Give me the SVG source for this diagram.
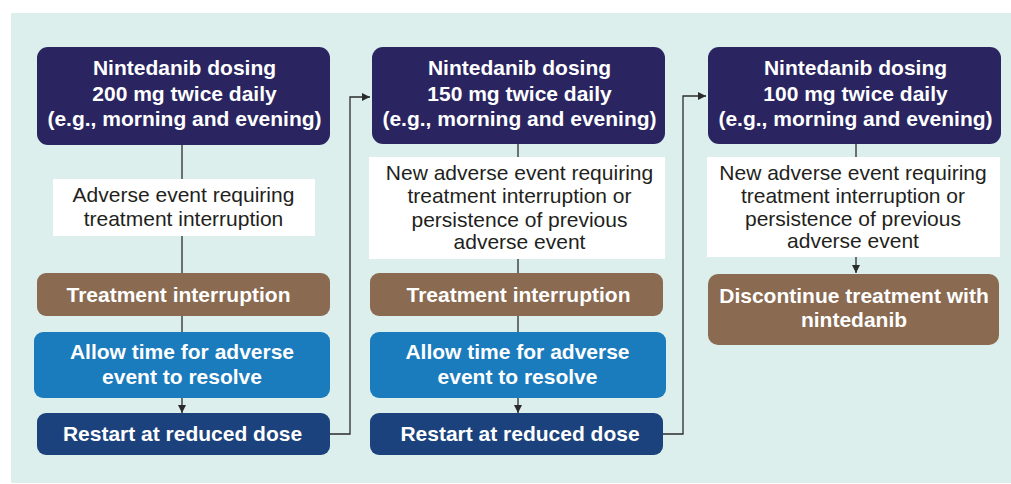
<svg xmlns="http://www.w3.org/2000/svg" width="1011" height="484" viewBox="0 0 1011 484">
  <defs>
    <marker id="arrow" viewBox="0 0 10 10" refX="10" refY="5" markerWidth="8" markerHeight="8" markerUnits="userSpaceOnUse" orient="auto">
      <path d="M0,0 L10,5 L0,10 z" fill="#2b2b2b"/>
    </marker>
    <style>
      .dose { fill: #2a2560; }
      .event { fill: #ffffff; }
      .stop { fill: #8a6a50; }
      .wait { fill: #1a7bbd; }
      .restart { fill: #1b427c; }
      .hd { font-family: "Liberation Sans", Arial, sans-serif; font-weight: bold; font-size: 21px; fill: #ffffff; text-anchor: middle; }
      .tx { font-family: "Liberation Sans", Arial, sans-serif; font-size: 21px; fill: #231f20; text-anchor: middle; }
      .ln { fill: none; stroke: #2b2b2b; stroke-width: 1.3; }
    </style>
  </defs>

  <!-- panel background -->
  <rect x="11" y="13" width="1000" height="470" fill="#dcefed"/>

  <!-- connectors -->
  <g id="connectors">
    <line class="ln" x1="182" y1="145" x2="182" y2="179"/>
    <line class="ln" x1="182" y1="236" x2="182" y2="273"/>
    <line class="ln" x1="182" y1="316" x2="182" y2="332"/>
    <line class="ln" x1="182" y1="398" x2="182" y2="413" marker-end="url(#arrow)"/>
    <polyline class="ln" points="330,434 350,434 350,97 370,97" marker-end="url(#arrow)"/>

    <line class="ln" x1="518" y1="144" x2="518" y2="157"/>
    <line class="ln" x1="518" y1="259" x2="518" y2="273"/>
    <line class="ln" x1="518" y1="316" x2="518" y2="332"/>
    <line class="ln" x1="518" y1="398" x2="518" y2="413" marker-end="url(#arrow)"/>
    <polyline class="ln" points="663,434 683,434 683,96 706,96" marker-end="url(#arrow)"/>

    <line class="ln" x1="856" y1="144" x2="856" y2="157"/>
    <line class="ln" x1="856" y1="257" x2="856" y2="273" marker-end="url(#arrow)"/>
  </g>

  <!-- column 1: 200 mg -->
  <g id="dose-200">
    <rect class="dose" x="37" y="47" width="293" height="98" rx="11"/>
    <text class="hd" x="184.5" y="75">Nintedanib dosing</text>
    <text class="hd" x="184.5" y="100.5">200 mg twice daily</text>
    <text class="hd" x="184.5" y="126">(e.g., morning and evening)</text>
  </g>
  <g id="event-1">
    <rect class="event" x="53" y="179" width="262" height="57"/>
    <text class="tx" x="183.5" y="202">Adverse event requiring</text>
    <text class="tx" x="183.5" y="226">treatment interruption</text>
  </g>
  <g id="interrupt-1">
    <rect class="stop" x="37" y="273" width="293" height="43" rx="9"/>
    <text class="hd" x="178.5" y="302">Treatment interruption</text>
  </g>
  <g id="resolve-1">
    <rect class="wait" x="34" y="332" width="296" height="66" rx="9"/>
    <text class="hd" x="182" y="359">Allow time for adverse</text>
    <text class="hd" x="182" y="384">event to resolve</text>
  </g>
  <g id="restart-1">
    <rect class="restart" x="37" y="413" width="293" height="42" rx="9"/>
    <text class="hd" x="182.5" y="441">Restart at reduced dose</text>
  </g>

  <!-- column 2: 150 mg -->
  <g id="dose-150">
    <rect class="dose" x="372" y="47" width="293" height="97" rx="11"/>
    <text class="hd" x="519.5" y="75">Nintedanib dosing</text>
    <text class="hd" x="519.5" y="100.5">150 mg twice daily</text>
    <text class="hd" x="519.5" y="126">(e.g., morning and evening)</text>
  </g>
  <g id="event-2">
    <rect class="event" x="369" y="157" width="296" height="102"/>
    <text class="tx" x="519.5" y="180">New adverse event requiring</text>
    <text class="tx" x="519.5" y="203">treatment interruption or</text>
    <text class="tx" x="519.5" y="227">persistence of previous</text>
    <text class="tx" x="519.5" y="249">adverse event</text>
  </g>
  <g id="interrupt-2">
    <rect class="stop" x="370" y="273" width="293" height="43" rx="9"/>
    <text class="hd" x="518.5" y="302">Treatment interruption</text>
  </g>
  <g id="resolve-2">
    <rect class="wait" x="370" y="332" width="296" height="66" rx="9"/>
    <text class="hd" x="517.5" y="359">Allow time for adverse</text>
    <text class="hd" x="517.5" y="384">event to resolve</text>
  </g>
  <g id="restart-2">
    <rect class="restart" x="370" y="413" width="293" height="42" rx="9"/>
    <text class="hd" x="520" y="441">Restart at reduced dose</text>
  </g>

  <!-- column 3: 100 mg -->
  <g id="dose-100">
    <rect class="dose" x="708" y="47" width="293" height="97" rx="11"/>
    <text class="hd" x="855.5" y="75">Nintedanib dosing</text>
    <text class="hd" x="855.5" y="100.5">100 mg twice daily</text>
    <text class="hd" x="855.5" y="126">(e.g., morning and evening)</text>
  </g>
  <g id="event-3">
    <rect class="event" x="707" y="157" width="293" height="100"/>
    <text class="tx" x="853" y="180">New adverse event requiring</text>
    <text class="tx" x="853" y="203">treatment interruption or</text>
    <text class="tx" x="853" y="226">persistence of previous</text>
    <text class="tx" x="853" y="248">adverse event</text>
  </g>
  <g id="discontinue">
    <rect class="stop" x="708" y="274" width="291" height="71" rx="10"/>
    <text class="hd" x="854" y="303">Discontinue treatment with</text>
    <text class="hd" x="854" y="327">nintedanib</text>
  </g>
</svg>
